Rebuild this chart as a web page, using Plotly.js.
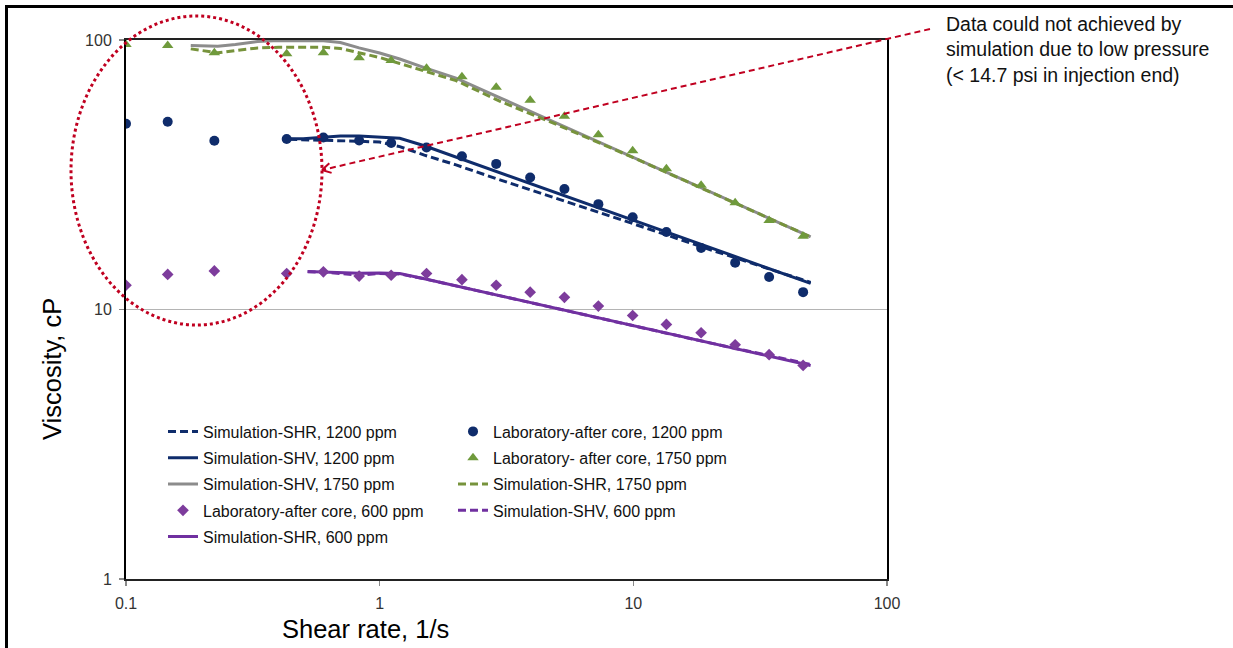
<!DOCTYPE html>
<html>
<head>
<meta charset="utf-8">
<script src="https://cdn.plot.ly/plotly-3.0.1.min.js"></script>
<style>
html,body{margin:0;padding:0;background:#fff;}
#chart{width:1233px;height:648px;}
</style>
</head>
<body>
<div id="chart"></div>
<script>
// ---- data ----
const shearLab = [0.1, 0.146, 0.223, 0.43, 0.6, 0.83, 1.11, 1.53, 2.11, 2.88, 3.92, 5.35, 7.28, 9.94, 13.5, 18.5, 25.2, 34.3, 46.7];
const lab1200 = [48.9, 49.7, 42.3, 42.9, 43.5, 42.4, 41.5, 39.9, 37.0, 34.7, 30.9, 28.0, 24.6, 22.0, 19.4, 16.9, 14.9, 13.2, 11.6];
const lab1750 = [96.2, 95.4, 89.6, 88.9, 89.6, 85.9, 83.9, 78.5, 73.0, 66.8, 59.7, 52.1, 44.5, 38.8, 33.3, 28.9, 24.9, 21.4, 18.7];
const lab600  = [12.3, 13.5, 13.9, 13.6, 13.8, 13.3, 13.4, 13.6, 12.9, 12.3, 11.6, 11.1, 10.3, 9.5, 8.8, 8.2, 7.4, 6.8, 6.2];

const shear1750 = [0.18, 0.2, 0.23, 0.27, 0.33, 0.4, 0.5, 0.6, 0.7, 0.83, 1.0, 1.2, 1.5, 2, 3, 5, 10, 20, 50];
const shv1750 = [95.4, 95.0, 94.8, 96.2, 98.7, 99.6, 99.6, 99.3, 97.9, 93.5, 89.5, 85.0, 79.0, 72.2, 60.9, 49.1, 36.7, 27.4, 18.6];
const shr1750 = [92.7, 91.4, 89.6, 91.4, 93.4, 94.0, 94.0, 94.0, 93.0, 89.6, 86.1, 81.8, 76.7, 70.7, 59.1, 48.5, 36.6, 27.3, 18.6];

const shear1200 = [0.44, 0.5, 0.6, 0.7, 0.83, 1.0, 1.2, 1.5, 2, 3, 5, 10, 20, 50];
const shr1200 = [42.8, 42.7, 42.4, 42.2, 42.1, 41.8, 40.2, 37.4, 34.4, 30.2, 25.8, 20.8, 16.7, 12.6];
const shv1200 = [43.0, 43.0, 43.6, 44.0, 44.0, 43.7, 43.2, 40.5, 36.8, 32.1, 27.1, 21.5, 17.0, 12.5];

const shear600 = [0.52, 0.6, 0.7, 0.83, 1.0, 1.2, 1.5, 2, 3, 5, 10, 20, 50];
const shr600 = [13.84, 13.78, 13.70, 13.63, 13.66, 13.60, 13.0, 12.24, 11.23, 10.09, 8.71, 7.52, 6.20];
const shv600 = [13.8, 13.75, 13.6, 13.4, 13.6, 13.55, 13.0, 12.24, 11.23, 10.09, 8.71, 7.52, 6.25];

const xTicks = [0.1, 1, 10, 100];
const xTickText = ['0.1', '1', '10', '100'];
const yTicks = [1, 10, 100];
const yTickText = ['1', '10', '100'];

const names = {
  shr1200: 'Simulation-SHR, 1200 ppm',
  shv1200: 'Simulation-SHV, 1200 ppm',
  shv1750: 'Simulation-SHV, 1750 ppm',
  lab600: 'Laboratory-after core, 600 ppm',
  shr600: 'Simulation-SHR, 600 ppm',
  lab1200: 'Laboratory-after core, 1200 ppm',
  lab1750: 'Laboratory- after core, 1750 ppm',
  shr1750: 'Simulation-SHR, 1750 ppm',
  shv600: 'Simulation-SHV, 600 ppm'
};
const noteText = 'Data could not achieved by<br>simulation due to low pressure<br>(&lt; 14.7 psi in injection end)';

// ---- styles ----
const NAVY = '#0f2c6b', GREEN = '#6f9a3c', GREEN_D = '#77933c', GREY = '#8c8c8c', PURPLE = '#7030a0', PURPLE_M = '#7d3c9c';
const DASH = '8px,4px';

const traces = [
  {x: shear1200, y: shr1200, name: names.shr1200, mode: 'lines', line: {color: NAVY, width: 3, dash: DASH}, legend: 'legend', legendgroup: 'a1', legendrank: 1},
  {x: shear1200, y: shv1200, name: names.shv1200, mode: 'lines', line: {color: NAVY, width: 3}, legend: 'legend', legendgroup: 'a2', legendrank: 2},
  {x: shear1750, y: shv1750, name: names.shv1750, mode: 'lines', line: {color: GREY, width: 3}, legend: 'legend', legendgroup: 'a3', legendrank: 3},
  {x: shear1750, y: shr1750, name: names.shr1750, mode: 'lines', line: {color: GREEN_D, width: 3, dash: DASH}, legend: 'legend2', legendgroup: 'b3', legendrank: 3},
  {x: shear600, y: shv600, name: names.shv600, mode: 'lines', line: {color: PURPLE, width: 3, dash: DASH}, legend: 'legend2', legendgroup: 'b4', legendrank: 4},
  {x: shear600, y: shr600, name: names.shr600, mode: 'lines', line: {color: PURPLE, width: 3}, legend: 'legend', legendgroup: 'a5', legendrank: 5},
  {x: shearLab, y: lab600, name: names.lab600, mode: 'markers', marker: {color: PURPLE_M, size: 9, symbol: 'diamond'}, legend: 'legend', legendgroup: 'a4', legendrank: 4},
  {x: shearLab, y: lab1200, name: names.lab1200, mode: 'markers', marker: {color: NAVY, size: 10, symbol: 'circle'}, legend: 'legend2', legendgroup: 'b1', legendrank: 1},
  {x: shearLab, y: lab1750, name: names.lab1750, mode: 'markers', marker: {color: GREEN, size: 10, symbol: 'triangle-up'}, legend: 'legend2', legendgroup: 'b2', legendrank: 2}
];
traces.forEach(t => { t.type = 'scatter'; t.hoverinfo = 'skip'; });

const FONT = 'Liberation Sans, Arial, sans-serif';
const RED = '#c00020';

// paper-coordinate helpers for annotation drawings (not data marks)
const W = 1233, H = 648, ML = 126, MR = 346, MT = 40, MB = 69;
const PW = W - ML - MR, PH = H - MT - MB;
const px = v => (v - ML) / PW;
const py = v => (H - MB - v) / PH;

const tip = [322, 170], tail = [930, 29];
const arm1 = [331.6, 172.9], arm2 = [329.3, 163.2];

const shapes = [
  // outer frame (top & left)
  {type: 'line', xref: 'paper', yref: 'paper', x0: px(6.5), x1: px(1240), y0: py(6.5), y1: py(6.5), line: {color: '#000', width: 3}},
  {type: 'line', xref: 'paper', yref: 'paper', x0: px(6.5), x1: px(6.5), y0: py(5), y1: py(660), line: {color: '#000', width: 3}},
  // red dotted ellipse
  {type: 'circle', xref: 'paper', yref: 'paper', x0: px(71), x1: px(322), y0: py(325), y1: py(16), line: {color: RED, width: 3, dash: 'dot'}},
  // red dashed arrow
  {type: 'line', xref: 'paper', yref: 'paper', x0: px(tail[0]), y0: py(tail[1]), x1: px(tip[0]), y1: py(tip[1]), line: {color: RED, width: 2, dash: '6px,4px'}},
  {type: 'line', xref: 'paper', yref: 'paper', x0: px(tip[0]), y0: py(tip[1]), x1: px(arm1[0]), y1: py(arm1[1]), line: {color: RED, width: 2}},
  {type: 'line', xref: 'paper', yref: 'paper', x0: px(tip[0]), y0: py(tip[1]), x1: px(arm2[0]), y1: py(arm2[1]), line: {color: RED, width: 2}}
];

const annotations = [
  {xref: 'paper', yref: 'paper', x: px(944), y: py(11), xanchor: 'left', yanchor: 'top', align: 'left', showarrow: false,
   text: noteText, font: {family: FONT, size: 19.5, color: '#111'}},
  {xref: 'paper', yref: 'paper', x: px(365), y: py(629), xanchor: 'center', yanchor: 'middle', showarrow: false,
   text: 'Shear rate, 1/s', font: {family: FONT, size: 25.5, color: '#000'}},
  {xref: 'paper', yref: 'paper', x: px(52), y: py(369), xanchor: 'center', yanchor: 'middle', showarrow: false, textangle: -90,
   text: 'Viscosity, cP', font: {family: FONT, size: 25.5, color: '#000'}}
];

const legendCommon = {
  orientation: 'v', bgcolor: 'rgba(0,0,0,0)', borderwidth: 0, traceorder: 'grouped', tracegroupgap: 2.5,
  font: {family: FONT, size: 16, color: '#111'}, xanchor: 'left', yanchor: 'top'
};

const layout = {
  width: W, height: H,
  margin: {l: ML, r: MR, t: MT, b: MB},
  paper_bgcolor: '#fff', plot_bgcolor: '#fff',
  font: {family: FONT, color: '#333'},
  showlegend: true,
  legend: Object.assign({}, legendCommon, {x: px(163), y: py(414.5)}),
  legend2: Object.assign({}, legendCommon, {x: px(453), y: py(414.5)}),
  xaxis: {
    type: 'log', range: [-1, 2], tickvals: xTicks, ticktext: xTickText,
    showgrid: false, zeroline: false, showline: true, linecolor: '#222', linewidth: 2, mirror: true,
    ticks: 'outside', ticklen: 5, tickcolor: '#888', tickwidth: 1.5, ticklabelstandoff: 4,
    tickfont: {family: FONT, size: 16, color: '#333'}
  },
  yaxis: {
    type: 'log', range: [0, 2], tickvals: yTicks, ticktext: yTickText,
    showgrid: true, gridcolor: '#b4b4b4', gridwidth: 1.5, zeroline: false,
    showline: true, linecolor: '#000', linewidth: 2, mirror: true,
    ticks: 'outside', ticklen: 5, tickcolor: '#888', tickwidth: 1.5, ticklabelstandoff: 4,
    tickfont: {family: FONT, size: 16, color: '#333'}
  },
  shapes: shapes,
  annotations: annotations
};

Plotly.newPlot('chart', traces, layout, {staticPlot: true, displayModeBar: false});
</script>
</body>
</html>
